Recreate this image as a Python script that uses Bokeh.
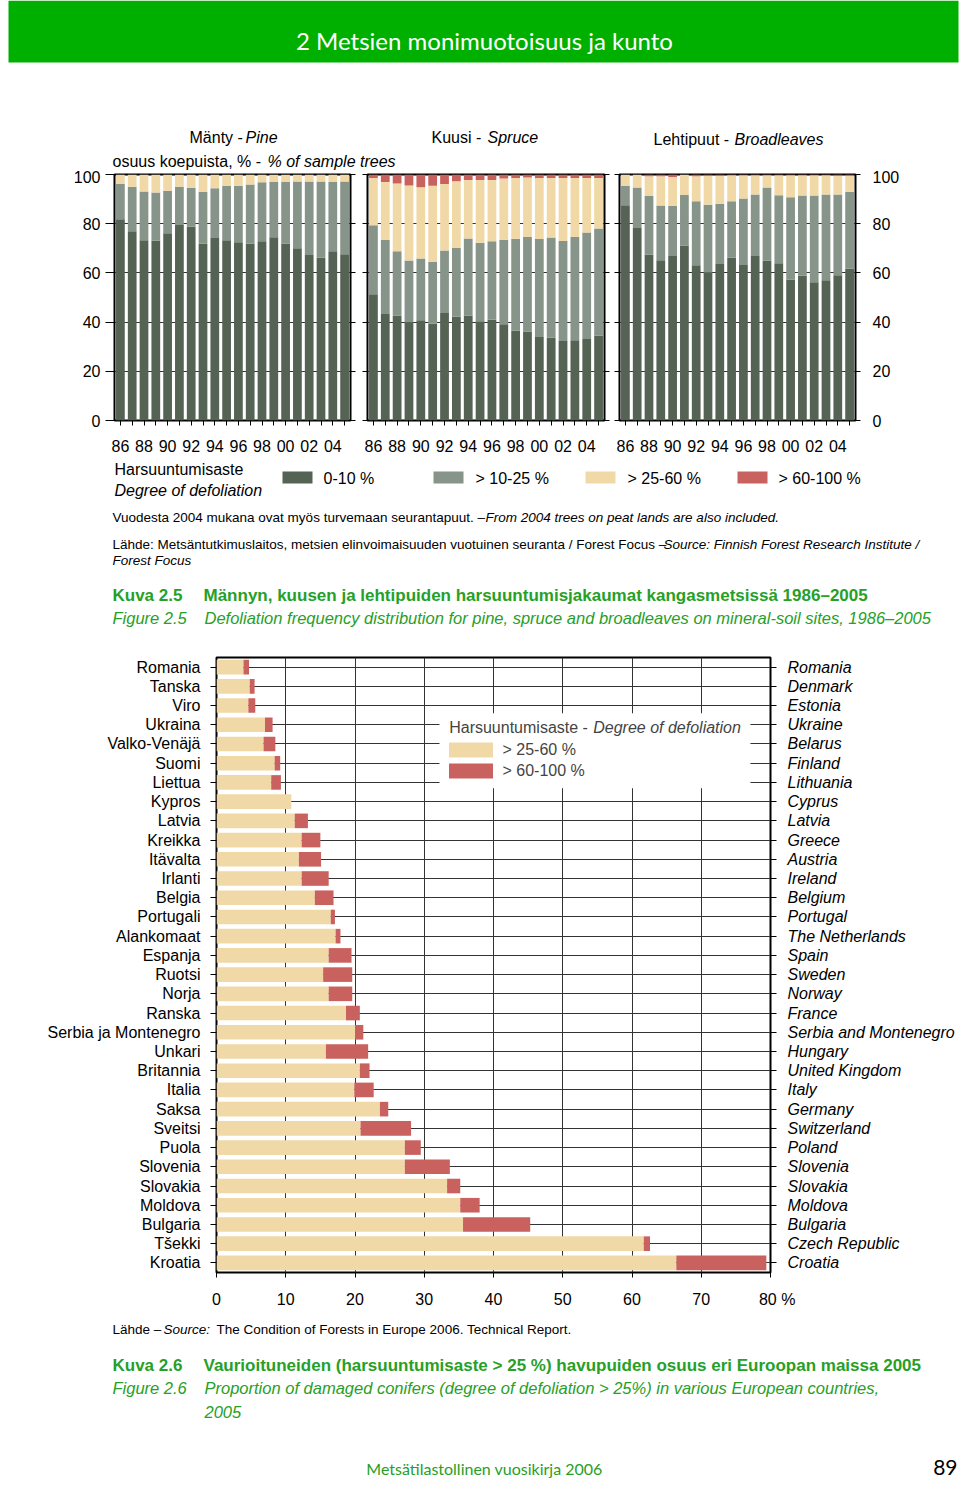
from bokeh.plotting import figure
from bokeh.layouts import row
from bokeh.models import (Range1d, FactorRange, LinearAxis, CategoricalAxis, FixedTicker,
                          Legend, LegendItem, Label, BoxAnnotation, ColumnDataSource)
from bokeh.embed import file_html
from bokeh.resources import INLINE
from bokeh.core.properties import value

FONT = "Liberation Sans"
HFONT = "Lato"
C_DARK = "#546353"
C_GRAY = "#869489"
C_BEIGE = "#f1d9a7"
C_RED = "#c9625f"
C_HEAD = "#00b000"
C_CAP = "#26a026"
C_GRID = "#333333"
FS = 16

# ---------------- data: Finnish defoliation classes 1986-2005 (% of sample trees)
years = list(range(1986, 2006))
year_tick_labels = ["86", "", "88", "", "90", "", "92", "", "94", "", "96", "", "98", "", "00", "", "02", "", "04", ""]
class_labels = ["0-10 %", "> 10-25 %", "> 25-60 %", "> 60-100 %"]
y_ticks = [0, 20, 40, 60, 80, 100]

pine_0_10 = [81.8, 76.9, 73.3, 73.1, 76.1, 79.5, 78.8, 71.9, 74.2, 73.3, 72.5, 71.8, 72.9, 74.5, 72.0, 70.0, 67.3, 66.2, 68.8, 67.6]
pine_10_25 = [14.3, 18.1, 19.8, 19.6, 17.3, 15.5, 15.8, 21.0, 20.2, 22.1, 22.8, 24.1, 24.0, 22.5, 25.0, 27.2, 29.9, 31.0, 28.2, 29.6]
pine_25_60 = [3.9, 5.0, 6.9, 7.3, 6.6, 5.0, 5.4, 7.1, 5.6, 4.6, 4.7, 4.1, 3.1, 3.0, 3.0, 2.8, 2.8, 2.8, 3.0, 2.8]
pine_60_100 = [0.0] * 20

spruce_0_10 = [51.3, 43.3, 42.7, 39.9, 40.8, 39.3, 43.7, 42.2, 42.7, 40.3, 41.0, 39.1, 36.5, 36.2, 33.9, 33.6, 32.3, 32.6, 33.1, 34.5]
spruce_10_25 = [28.1, 30.2, 26.1, 25.1, 25.1, 25.2, 25.4, 28.0, 31.3, 32.0, 31.9, 34.4, 37.4, 38.4, 39.9, 40.8, 40.7, 42.0, 43.3, 43.5]
spruce_25_60 = [19.2, 23.5, 27.5, 30.5, 28.9, 30.9, 27.0, 27.1, 23.8, 25.5, 24.9, 24.9, 24.7, 24.2, 24.8, 24.2, 25.6, 24.0, 22.2, 20.6]
spruce_60_100 = [1.4, 3.0, 3.7, 4.5, 5.2, 4.6, 3.9, 2.7, 2.2, 2.2, 2.2, 1.6, 1.4, 1.2, 1.4, 1.4, 1.4, 1.4, 1.4, 1.4]

broad_0_10 = [87.5, 78.3, 67.4, 65.1, 66.9, 71.1, 63.1, 60.2, 63.6, 66.2, 63.2, 66.9, 65.0, 63.9, 57.3, 58.8, 56.2, 57.0, 59.0, 61.7]
broad_10_25 = [7.8, 16.4, 23.9, 22.3, 20.3, 20.6, 26.0, 27.5, 24.5, 22.9, 27.0, 25.0, 29.7, 27.7, 33.5, 32.7, 35.3, 34.9, 32.9, 31.3]
broad_25_60 = [4.7, 5.3, 8.0, 11.9, 11.8, 8.3, 10.2, 11.8, 11.4, 10.6, 9.5, 7.8, 5.0, 8.1, 8.9, 8.2, 8.2, 7.8, 7.6, 6.5]
broad_60_100 = [0.0, 0.0, 0.7, 0.7, 1.0, 0.0, 0.7, 0.5, 0.5, 0.3, 0.3, 0.3, 0.3, 0.3, 0.3, 0.3, 0.3, 0.3, 0.5, 0.5]

# ---------------- data: damaged conifers in Europe 2005 (%)
countries_fi = ["Romania", "Tanska", "Viro", "Ukraina", "Valko-Venäjä", "Suomi", "Liettua", "Kypros",
                "Latvia", "Kreikka", "Itävalta", "Irlanti", "Belgia", "Portugali", "Alankomaat", "Espanja",
                "Ruotsi", "Norja", "Ranska", "Serbia ja Montenegro", "Unkari", "Britannia", "Italia", "Saksa",
                "Sveitsi", "Puola", "Slovenia", "Slovakia", "Moldova", "Bulgaria", "Tšekki", "Kroatia"]
countries_en = ["Romania", "Denmark", "Estonia", "Ukraine", "Belarus", "Finland", "Lithuania", "Cyprus",
                "Latvia", "Greece", "Austria", "Ireland", "Belgium", "Portugal", "The Netherlands", "Spain",
                "Sweden", "Norway", "France", "Serbia and Montenegro", "Hungary", "United Kingdom", "Italy", "Germany",
                "Switzerland", "Poland", "Slovenia", "Slovakia", "Moldova", "Bulgaria", "Czech Republic", "Croatia"]
eu_25_60 = [3.9, 4.8, 4.6, 7.0, 6.8, 8.4, 7.9, 10.8, 11.3, 12.3, 11.9, 12.3, 14.2, 16.5, 17.2, 16.2,
            15.4, 16.2, 18.7, 20.0, 15.8, 20.7, 19.9, 23.6, 20.8, 27.2, 27.2, 33.3, 35.2, 35.6, 61.7, 66.4]
eu_60_100 = [0.8, 0.7, 1.0, 1.1, 1.7, 0.8, 1.4, 0.0, 1.9, 2.7, 3.2, 3.9, 2.7, 0.6, 0.7, 3.3,
             4.2, 3.4, 2.0, 1.2, 6.1, 1.4, 2.8, 1.2, 7.3, 2.3, 6.5, 1.9, 2.8, 9.7, 0.9, 13.0]
x_ticks_eu = [0, 10, 20, 30, 40, 50, 60, 70, 80]


# ---------------- helpers
def text_fig(y0, y1):
    p = figure(width=960, height=y1 - y0, x_range=Range1d(0, 960), y_range=Range1d(y1, y0),
               output_backend="svg", toolbar_location=None, x_axis_location=None,
               y_axis_location=None, min_border=0)
    p.grid.visible = False
    p.outline_line_color = None
    return p


def T(p, x, y, s, size=FS, style="normal", color="black", align="left", font=FONT):
    p.text(x=[x], y=[y], text=[s], text_font=value(font), text_font_size=f"{size}px",
           text_font_style=style, text_color=color, text_align=align, text_baseline="middle")


def style_axis(ax, size=FS, style="normal"):
    ax.axis_line_color = None
    ax.major_tick_in = 0
    ax.minor_tick_out = 0
    ax.minor_tick_in = 0
    ax.major_tick_line_color = "black"
    ax.major_label_text_font = FONT
    ax.major_label_text_font_size = f"{size}px"
    ax.major_label_text_font_style = style
    ax.major_label_text_color = "black"


def make_panel(width, b_left, b_right, s0, s1, s2, s3, left_labels, right_labels, left_tick):
    p = figure(width=width, height=290, x_range=Range1d(-0.5, 19.5), y_range=Range1d(0, 100),
               output_backend="svg", toolbar_location=None,
               min_border_left=b_left, min_border_right=b_right, min_border_top=4, min_border_bottom=40)
    p.outline_line_color = "black"
    p.outline_line_width = 2
    src = ColumnDataSource(dict(x=list(range(len(years))), c0=s0, c1=s1, c2=s2, c3=s3))
    p.vbar_stack(["c0", "c1", "c2", "c3"], x="x", width=0.74, source=src,
                 fill_color=[C_DARK, C_GRAY, C_BEIGE, C_RED], line_color=None)
    xa = p.xaxis[0]
    xa.ticker = FixedTicker(ticks=list(range(len(years))))
    xa.major_label_overrides = {i: lab for i, lab in enumerate(year_tick_labels)}
    style_axis(xa)
    xa.major_tick_out = 5
    xa.major_label_standoff = 14
    p.xgrid.visible = False
    p.ygrid.ticker = FixedTicker(ticks=[20, 40, 60, 80])
    p.ygrid.grid_line_color = C_GRID
    ya = p.yaxis[0]
    ya.ticker = FixedTicker(ticks=y_ticks)
    style_axis(ya)
    ya.major_tick_out = left_tick
    if left_labels:
        ya.major_label_standoff = 5
    else:
        ya.major_label_overrides = {t: "" for t in y_ticks}
        ya.major_label_standoff = 0
    ra = LinearAxis(ticker=FixedTicker(ticks=y_ticks))
    style_axis(ra)
    ra.major_tick_out = 5
    if right_labels:
        ra.major_label_standoff = 12
    else:
        ra.major_label_overrides = {t: "" for t in y_ticks}
        ra.major_label_standoff = 0
    p.add_layout(ra, "right")
    return p


# ---------------- header
head = text_fig(0, 170)
head.quad(left=[8], right=[958], top=[0], bottom=[62], fill_color=C_HEAD, line_color=None)
T(head, 484, 40, "2 Metsien monimuotoisuus ja kunto", size=24, color="white", align="center", font=HFONT)
T(head, 189, 137, "Mänty - ")
T(head, 245, 137, "Pine", style="italic")
T(head, 112, 161, "osuus koepuista, % - ")
T(head, 267, 161, "% of sample trees", style="italic")
T(head, 431, 137, "Kuusi - ")
T(head, 487, 137, "Spruce", style="italic")
T(head, 653, 139, "Lehtipuut - ")
T(head, 734, 139, "Broadleaves", style="italic")

# ---------------- three panels
p_pine = make_panel(358, 114, 8, pine_0_10, pine_10_25, pine_25_60, pine_60_100, True, False, 9)
p_spruce = make_panel(253, 9, 7, spruce_0_10, spruce_10_25, spruce_25_60, spruce_60_100, False, False, 5)
p_broad = make_panel(349, 8, 105, broad_0_10, broad_10_25, broad_25_60, broad_60_100, False, True, 5)
panels = row(p_pine, p_spruce, p_broad, spacing=0)

# ---------------- legend + notes + caption 2.5
mid = text_fig(460, 645)
T(mid, 114, 469, "Harsuuntumisaste")
T(mid, 114, 490, "Degree of defoliation", style="italic")
sw_x = [297, 448, 600, 752]
mid.rect(x=sw_x, y=[477] * 4, width=30, height=12, fill_color=[C_DARK, C_GRAY, C_BEIGE, C_RED], line_color=None)
for xx, lab in zip([323, 475, 627, 778], class_labels):
    T(mid, xx, 478, lab)
T(mid, 112, 517, "Vuodesta 2004 mukana ovat myös turvemaan seurantapuut. – ", size=13.5)
T(mid, 485, 517, "From 2004 trees on peat lands are also included.", size=13.5, style="italic")
T(mid, 112, 544, "Lähde: Metsäntutkimuslaitos, metsien elinvoimaisuuden vuotuinen seuranta / Forest Focus – ", size=13.5)
T(mid, 663, 544, "Source: Finnish Forest Research Institute /", size=13.5, style="italic")
T(mid, 112, 560, "Forest Focus", size=13.5, style="italic")
T(mid, 112, 595, "Kuva 2.5", size=17, style="bold", color=C_CAP)
T(mid, 203, 595, "Männyn, kuusen ja lehtipuiden harsuuntumisjakaumat kangasmetsissä 1986–2005", size=17, style="bold", color=C_CAP)
T(mid, 112, 617, "Figure 2.5", size=16.5, style="italic", color=C_CAP)
T(mid, 204, 617, "Defoliation frequency distribution for pine, spruce and broadleaves on mineral-soil sites, 1986–2005", size=16.5, style="italic", color=C_CAP)

# ---------------- Europe chart
fi_rev = countries_fi[::-1]
en_rev = countries_en[::-1]
pb = figure(width=960, height=673, x_range=Range1d(0, 80), y_range=FactorRange(factors=fi_rev),
            output_backend="svg", toolbar_location=None,
            min_border_left=216, min_border_right=190, min_border_top=12, min_border_bottom=46)
pb.outline_line_color = "black"
pb.outline_line_width = 2
pb.extra_y_ranges = {"en": FactorRange(factors=en_rev)}
srcb = ColumnDataSource(dict(country=countries_fi, b=eu_25_60, r=eu_60_100))
rs = pb.hbar_stack(["b", "r"], y="country", height=0.76, source=srcb,
                   fill_color=[C_BEIGE, C_RED], line_color=None)
xb = pb.xaxis[0]
xb.ticker = FixedTicker(ticks=x_ticks_eu)
xb.major_label_overrides = {80: "\u00a0\u00a0\u00a080 %"}
style_axis(xb)
xb.major_tick_out = 5
xb.major_label_standoff = 13
pb.xgrid.ticker = FixedTicker(ticks=x_ticks_eu[1:-1])
pb.xgrid.grid_line_color = C_GRID
pb.ygrid.grid_line_color = C_GRID
yl = pb.yaxis[0]
style_axis(yl)
yl.major_tick_out = 6
yl.major_label_standoff = 10
yl.major_label_overrides = {"Suomi": ""}
yr = CategoricalAxis(y_range_name="en")
style_axis(yr, style="italic")
yr.major_tick_out = 6
yr.major_label_standoff = 11
yr.major_label_overrides = {"Finland": ""}
pb.add_layout(yr, "right")

pb.add_layout(BoxAnnotation(left=32.2, right=77.1, bottom=25.2, top=29.1, fill_color="white",
                            fill_alpha=1.0, line_color=None))
leg = Legend(items=[LegendItem(label="> 25-60 %", renderers=[rs[0]]),
                    LegendItem(label="> 60-100 %", renderers=[rs[1]])],
             location=(226.5, 492), glyph_width=55, glyph_height=19, label_standoff=5, padding=8,
             spacing=2, label_height=19, background_fill_alpha=0.0, border_line_color=None,
             label_text_font=FONT, label_text_font_size=f"{FS}px")
pb.add_layout(leg)
pb.add_layout(Label(x=33.6, y=28.36, text="Harsuuntumisaste - ", text_font=FONT, text_font_size=f"{FS}px",
                    text_baseline="middle"))
pb.add_layout(Label(x=54.4, y=28.36, text="Degree of defoliation", text_font=FONT, text_font_size=f"{FS}px",
                    text_font_style="italic", text_baseline="middle"))
pb.add_layout(Label(x=-2.32, y=26.5, text="\u00a0\u00a0Suomi", text_font=FONT, text_font_size=f"{FS}px",
                    text_align="right", text_baseline="middle", background_fill_color="#b4b8b0"))
pb.add_layout(Label(x=82.6, y=26.5, text="Finland\u00a0", text_font=FONT, text_font_size=f"{FS}px",
                    text_font_style="italic", text_align="left", text_baseline="middle",
                    background_fill_color="#b4b8b0"))

# ---------------- footer
foot = text_fig(1318, 1485)
T(foot, 112, 1329, "Lähde – ", size=13.5)
T(foot, 163, 1329, "Source:", size=13.5, style="italic")
T(foot, 216, 1329, "The Condition of Forests in Europe 2006. Technical Report.", size=13.5)
T(foot, 112, 1365, "Kuva 2.6", size=17, style="bold", color=C_CAP)
T(foot, 203, 1365, "Vaurioituneiden (harsuuntumisaste > 25 %) havupuiden osuus eri Euroopan maissa 2005", size=17, style="bold", color=C_CAP)
T(foot, 112, 1387, "Figure 2.6", size=16.5, style="italic", color=C_CAP)
T(foot, 204, 1387, "Proportion of damaged conifers (degree of defoliation > 25%) in various European countries,", size=16.5, style="italic", color=C_CAP)
T(foot, 204, 1411, "2005", size=16.5, style="italic", color=C_CAP)
T(foot, 484, 1468, "Metsätilastollinen vuosikirja 2006", size=16, color=C_CAP, align="center", font=HFONT)
T(foot, 957, 1467, "89", size=21, align="right", font=HFONT)

open("out.html", "w").write(file_html([head, panels, mid, pb, foot], INLINE))
